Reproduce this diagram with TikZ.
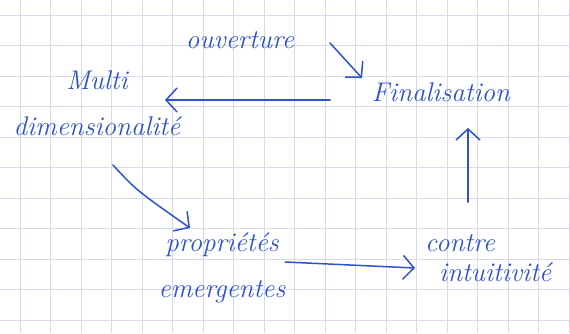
\documentclass[tikz,border=0pt]{standalone}
\usetikzlibrary{arrows.meta}
\definecolor{ink}{RGB}{45,82,205}
\definecolor{gridc}{RGB}{214,218,232}
\begin{document}
\begin{tikzpicture}[x=1pt,y=-1pt,
  lab/.style={text=ink,font=\fontsize{27}{30}\selectfont\itshape,align=center,inner sep=0pt},
  arr/.style={draw=ink,line width=1.5pt,line cap=round,line join=round,-{Straight Barb[length=11pt,width=24pt,line width=1.5pt]}}]
\useasboundingbox (0,0) rectangle (570,333);
\fill[white] (0,0) rectangle (570,333);
\foreach \i in {0,...,18} \draw[gridc,line width=0.8pt] (20+30.5*\i,0) -- (20+30.5*\i,333);
\foreach \j in {0,...,10} \draw[gridc,line width=0.8pt] (0,15+30.5*\j) -- (570,15+30.5*\j);
\node[lab] (ouv) at (240,40) {ouverture};
\node[lab] (fin) at (441,92) {Finalisation};
\node[lab] (mul) at (97,103) {Multi\\[16pt]dimensionalité};
\node[lab] (pro) at (222,268) {propriétés\\[16pt]emergentes};
\node[lab,align=left,anchor=west] (con) at (425,258) {contre\\\hspace*{14pt}intuitivité};
\draw[arr] ([shift={(90,3)}]ouv.center) -- ([shift={(-79,-14)}]fin.center);
\draw[arr] ([shift={(-111,8)}]fin.center) -- ([shift={(68,-3)}]mul.center);
\draw[arr] ([shift={(16,62)}]mul.center) .. controls (136,190) .. ([shift={(-32,-40)}]pro.center);
\draw[arr] ([shift={(63,-6)}]pro.center) -- ([shift={(-10,10)}]con.west);
\draw[arr] ([shift={(43,-56)}]con.west) -- ([shift={(27,36)}]fin.center);
\end{tikzpicture}
\end{document}
